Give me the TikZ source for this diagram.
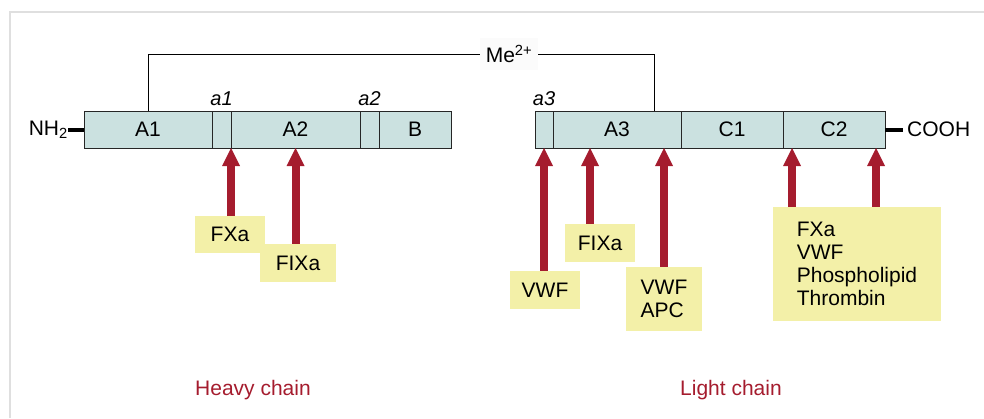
\documentclass[tikz,border=0pt]{standalone}
\usepackage{fontspec}
\setmainfont{Liberation Sans}
\usetikzlibrary{arrows.meta,positioning}
\definecolor{barfill}{HTML}{CBE1E0}
\definecolor{darkred}{HTML}{A51C2E}
\definecolor{siteyellow}{HTML}{F3F0A8}

\begin{document}
\begin{tikzpicture}[x=1pt, y=-1pt,
  every node/.style={font=\fontsize{21}{23}\selectfont},
  seg/.style={draw=black!85, line width=1pt, fill=barfill, minimum height=37pt, inner sep=0pt, outer sep=0pt},
  site/.style={fill=siteyellow, inner sep=0pt, align=left},
  bind/.style={draw=darkred, line width=8pt, -{Triangle[width=18pt, length=18pt, line width=0pt]}},
  endbar/.style={line width=4pt},
  region/.style={inner sep=0pt, font=\fontsize{20}{22}\selectfont\itshape},
  chain/.style={text=darkred, font=\fontsize{21}{23}\selectfont}]
  \useasboundingbox (0,0) rectangle (984,418);
  \draw[gray!25, line width=2pt] (10,418) -- (10,12) -- (984,12);

  \node[seg, minimum width=128pt] (A1) at (148,129.5) {A1};
  \node[seg, minimum width=19pt, right=0pt of A1] (a1) {};
  \node[seg, minimum width=129pt, right=0pt of a1] (A2) {A2};
  \node[seg, minimum width=19pt, right=0pt of A2] (a2) {};
  \node[seg, minimum width=72pt, right=0pt of a2] (B) {B};

  \node[seg, minimum width=18pt] (a3) at (544,129.5) {};
  \node[seg, minimum width=128pt, right=0pt of a3] (A3) {A3};
  \node[seg, minimum width=102pt, right=0pt of A3] (C1) {C1};
  \node[seg, minimum width=102pt, right=0pt of C1] (C2) {C2};

  \node[region, above=5pt of a1] (la1) {a1};
  \node[region, above=5pt of a2] (la2) {a2};
  \node[region, above=5pt of a3] (la3) {a3};

  \node[anchor=east, inner sep=0pt] (nh2) at ([xshift=-16pt]A1.west) {NH\textsubscript{2}};
  \draw[endbar] (nh2.east |- A1.west) -- (A1.west);
  \node[anchor=west, inner sep=0pt] (cooh) at ([xshift=22pt]C2.east) {COOH};
  \draw[endbar] (C2.east) -- ([xshift=18pt]C2.east);

  \node[fill=gray!3, minimum width=58pt, minimum height=32pt, inner sep=0pt] (me) at (509,54) {Me\textsuperscript{2+}};
  \draw[line width=1pt] (A1.north) |- (me.west);
  \draw[line width=1pt] (me.east) -| ([xshift=-27pt]A3.north east);

  \node[site, minimum width=70pt, minimum height=37pt] (fxa) at (230,234.5) {FXa};
  \node[site, minimum width=76pt, minimum height=38pt] (fixa) at (298,263) {FIXa};
  \node[site, minimum width=70pt, minimum height=38pt] (vwf) at (545,290) {VWF};
  \node[site, minimum width=70pt, minimum height=38pt] (fixb) at (600,243) {FIXa};
  \node[site, minimum width=76pt, minimum height=64pt] (vwfapc) at (664,299) {VWF\\APC};
  \node[site, minimum width=168pt, minimum height=114pt] (many) at (857,264) {FXa\\VWF\\Phospholipid\\Thrombin};

  \draw[bind] (fxa.north -| A2.south west) -- (A2.south west);
  \draw[bind] (fixa.north -| A2.south) -- (A2.south);
  \draw[bind] (vwf.north -| a3.south) -- (a3.south);
  \draw[bind] (fixb.north -| 590,0) -- (590,148);
  \draw[bind] (vwfapc.north) -- (vwfapc.north |- A3.south);
  \draw[bind] ([xshift=-65pt]many.north) -- ([xshift=-65pt]many.north |- C2.south);
  \draw[bind] ([xshift=19pt]many.north) -- ([xshift=19pt]many.north |- C2.south);

  \node[chain] (heavy) at (253,390) {Heavy chain};
  \node[chain] (light) at (731,390) {Light chain};
\end{tikzpicture}
\end{document}
